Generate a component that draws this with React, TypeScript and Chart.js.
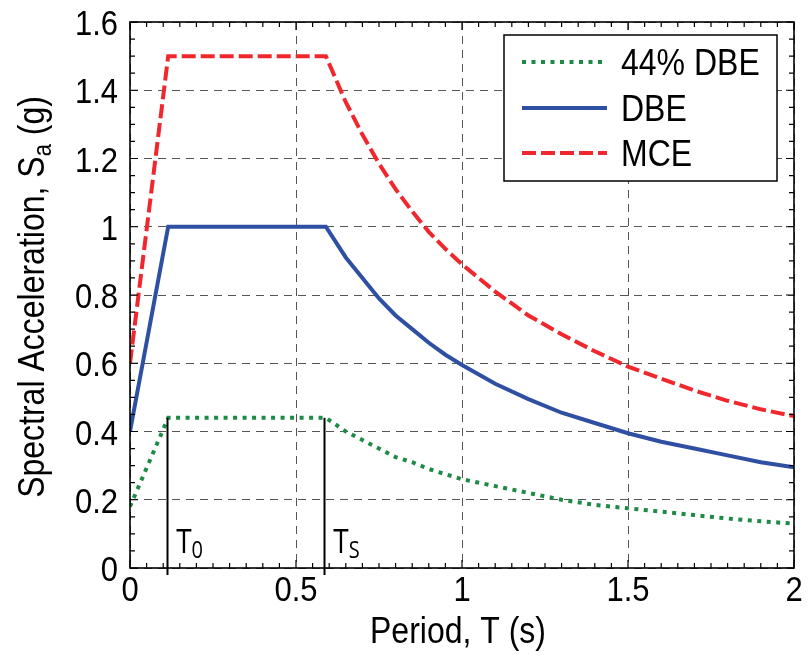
import { useEffect, useRef } from "react";
import { Chart, registerables } from "chart.js";

Chart.register(...registerables);

// Design response spectra: period T (s) against spectral acceleration Sa (g)
const periods = [0, 0.115, 0.59, 0.65, 0.7, 0.75, 0.8, 0.85, 0.9, 0.95, 1.0, 1.1, 1.2, 1.3, 1.4, 1.5, 1.6, 1.7, 1.8, 1.9, 2.0];
const dbe44 = [0.18, 0.44, 0.44, 0.4, 0.375, 0.35, 0.325, 0.31, 0.29, 0.275, 0.26, 0.24, 0.22, 0.2, 0.185, 0.175, 0.165, 0.155, 0.145, 0.137, 0.13];
const dbe = [0.4, 1.0, 1.0, 0.91, 0.85, 0.79, 0.74, 0.7, 0.66, 0.625, 0.595, 0.54, 0.495, 0.455, 0.425, 0.395, 0.37, 0.35, 0.33, 0.31, 0.295];
const mce = [0.6, 1.5, 1.5, 1.365, 1.27, 1.185, 1.11, 1.045, 0.985, 0.935, 0.89, 0.81, 0.74, 0.685, 0.635, 0.59, 0.555, 0.52, 0.49, 0.465, 0.445];

const seriesNames = ["44% DBE", "DBE", "MCE"];

const xTicks = [0, 0.5, 1, 1.5, 2];
const xTickLabels = ["0", "0.5", "1", "1.5", "2"];
const yTicks = [0, 0.2, 0.4, 0.6, 0.8, 1.0, 1.2, 1.4, 1.6];
const yTickLabels = ["0", "0.2", "0.4", "0.6", "0.8", "1", "1.2", "1.4", "1.6"];

// Corner periods T0 and Ts, marked with vertical lines up to the 44% DBE plateau
const markerPeriods = [0.112, 0.585];
const markerSubscripts = ["0", "S"];
const markerTop = 0.44;

const GREEN = "#1d8a45";
const BLUE = "#2f4fa3";
const RED = "#f0282d";
const FONT = '"Liberation Sans", Arial, sans-serif';
const TALL = 1.15; // glyphs drawn a little taller than wide

const styles = [
  { color: GREEN, dash: [4, 5.5] },
  { color: BLUE, dash: [] as number[] },
  { color: RED, dash: [14, 5] },
];

function tallText(ctx: CanvasRenderingContext2D, s: string, x: number, y: number) {
  ctx.save();
  ctx.translate(x, y);
  ctx.scale(1, TALL);
  ctx.fillText(s, 0, 0);
  ctx.restore();
}

const decorations = {
  id: "decorations",
  afterDatasetsDraw(chart: any) {
    const { ctx, chartArea: a, scales } = chart;
    const x = scales.x;
    const y = scales.y;
    ctx.save();

    // T0 / Ts marker lines
    ctx.strokeStyle = "#000";
    ctx.lineWidth = 2;
    ctx.setLineDash([]);
    markerPeriods.forEach((t) => {
      const px = Math.round(x.getPixelForValue(t)) + 0.5;
      ctx.beginPath();
      ctx.moveTo(px, y.getPixelForValue(markerTop));
      ctx.lineTo(px, a.bottom + 7);
      ctx.stroke();
    });

    // axes box
    ctx.lineWidth = 1.6;
    ctx.strokeRect(a.left, a.top, a.right - a.left, a.bottom - a.top);

    // inward tick marks on all four sides
    ctx.lineWidth = 1.2;
    ctx.beginPath();
    for (let k = 0; k <= 40; k++) {
      const px = x.getPixelForValue(k * 0.05);
      const len = k % 10 === 0 ? 8 : 5;
      ctx.moveTo(px, a.bottom);
      ctx.lineTo(px, a.bottom - len);
      ctx.moveTo(px, a.top);
      ctx.lineTo(px, a.top + len);
    }
    for (let k = 0; k <= 32; k++) {
      const py = y.getPixelForValue(k * 0.05);
      const len = k % 4 === 0 ? 8 : 5;
      ctx.moveTo(a.left, py);
      ctx.lineTo(a.left + len, py);
      ctx.moveTo(a.right, py);
      ctx.lineTo(a.right - len, py);
    }
    ctx.stroke();

    // tick labels
    ctx.fillStyle = "#000";
    ctx.font = `31px ${FONT}`;
    ctx.textBaseline = "alphabetic";
    ctx.textAlign = "center";
    xTicks.forEach((v, i) => {
      tallText(ctx, xTickLabels[i], x.getPixelForValue(v), a.bottom + 33);
    });
    ctx.textAlign = "right";
    yTicks.forEach((v, i) => {
      tallText(ctx, yTickLabels[i], a.left - 12, y.getPixelForValue(v) + 13);
    });

    // axis titles
    ctx.font = `32px ${FONT}`;
    ctx.textAlign = "center";
    tallText(ctx, "Period, T (s)", (a.left + a.right) / 2 - 4, a.bottom + 75);

    const main = "Spectral Acceleration, S";
    const sub = "a";
    const tail = " (g)";
    ctx.font = `32px ${FONT}`;
    const wMain = ctx.measureText(main).width;
    const wTail = ctx.measureText(tail).width;
    ctx.font = `22px ${FONT}`;
    const wSub = ctx.measureText(sub).width;
    const total = wMain + wSub + wTail;
    ctx.save();
    ctx.translate(44, (a.top + a.bottom) / 2 + 2);
    ctx.rotate(-Math.PI / 2);
    ctx.textAlign = "left";
    let cx = -total / 2;
    ctx.font = `32px ${FONT}`;
    tallText(ctx, main, cx, 0);
    cx += wMain;
    ctx.font = `22px ${FONT}`;
    tallText(ctx, sub, cx, 7);
    cx += wSub;
    ctx.font = `32px ${FONT}`;
    tallText(ctx, tail, cx, 0);
    ctx.restore();

    // marker labels
    markerPeriods.forEach((t, i) => {
      const px = x.getPixelForValue(t);
      ctx.textAlign = "left";
      ctx.font = `28px "Open Sans", sans-serif`;
      tallText(ctx, "T", px + 9, a.bottom - 15);
      const wT = ctx.measureText("T").width;
      ctx.font = `20px "Open Sans", sans-serif`;
      tallText(ctx, markerSubscripts[i], px + 9 + wT, a.bottom - 10);
    });

    // legend
    const lx = 504;
    const ly = 35;
    const lw = 273;
    const lh = 146;
    ctx.fillStyle = "#fff";
    ctx.fillRect(lx, ly, lw, lh);
    ctx.strokeStyle = "#000";
    ctx.lineWidth = 1.5;
    ctx.strokeRect(lx, ly, lw, lh);
    const rows = [62, 108, 153];
    seriesNames.forEach((name, i) => {
      ctx.strokeStyle = styles[i].color;
      ctx.lineWidth = 4;
      ctx.setLineDash(styles[i].dash);
      ctx.beginPath();
      ctx.moveTo(522, rows[i]);
      ctx.lineTo(607, rows[i]);
      ctx.stroke();
      ctx.setLineDash([]);
      ctx.fillStyle = "#000";
      ctx.font = `32px ${FONT}`;
      ctx.textAlign = "left";
      tallText(ctx, name, 621, rows[i] + 13);
    });

    ctx.restore();
  },
};

export default function App() {
  const ref = useRef<HTMLCanvasElement | null>(null);

  useEffect(() => {
    const canvas = ref.current;
    if (!canvas) return;
    const toPoints = (vals: number[]) => periods.map((t, i) => ({ x: t, y: vals[i] }));
    const series = [dbe44, dbe, mce];
    const chart = new Chart(canvas, {
      type: "line",
      data: {
        datasets: series.map((vals, i) => ({
          label: seriesNames[i],
          data: toPoints(vals),
          borderColor: styles[i].color,
          borderDash: styles[i].dash,
          borderWidth: 4,
          pointRadius: 0,
          fill: false,
          tension: 0,
        })),
      },
      options: {
        responsive: false,
        animation: false,
        events: [],
        layout: { padding: { left: 130, top: 22, right: 14, bottom: 98 } },
        plugins: {
          legend: { display: false },
          tooltip: { enabled: false },
          title: { display: false },
        },
        scales: {
          x: {
            type: "linear",
            min: 0,
            max: 2,
            ticks: { stepSize: 0.5, display: false },
            grid: { color: "#555", lineWidth: 1, drawTicks: false },
            border: { display: false, dash: [8, 6] },
            afterFit: (s: any) => {
              s.height = 0;
            },
          },
          y: {
            type: "linear",
            min: 0,
            max: 1.6,
            ticks: { stepSize: 0.2, display: false },
            grid: { color: "#555", lineWidth: 1, drawTicks: false },
            border: { display: false, dash: [8, 6] },
            afterFit: (s: any) => {
              s.width = 0;
            },
          },
        },
      },
      plugins: [decorations],
    });
    return () => chart.destroy();
  }, []);

  return (
    <div style={{ position: "fixed", left: 0, top: 0, width: 808, height: 666, background: "#fff" }}>
      <canvas ref={ref} width={808} height={666} />
    </div>
  );
}
